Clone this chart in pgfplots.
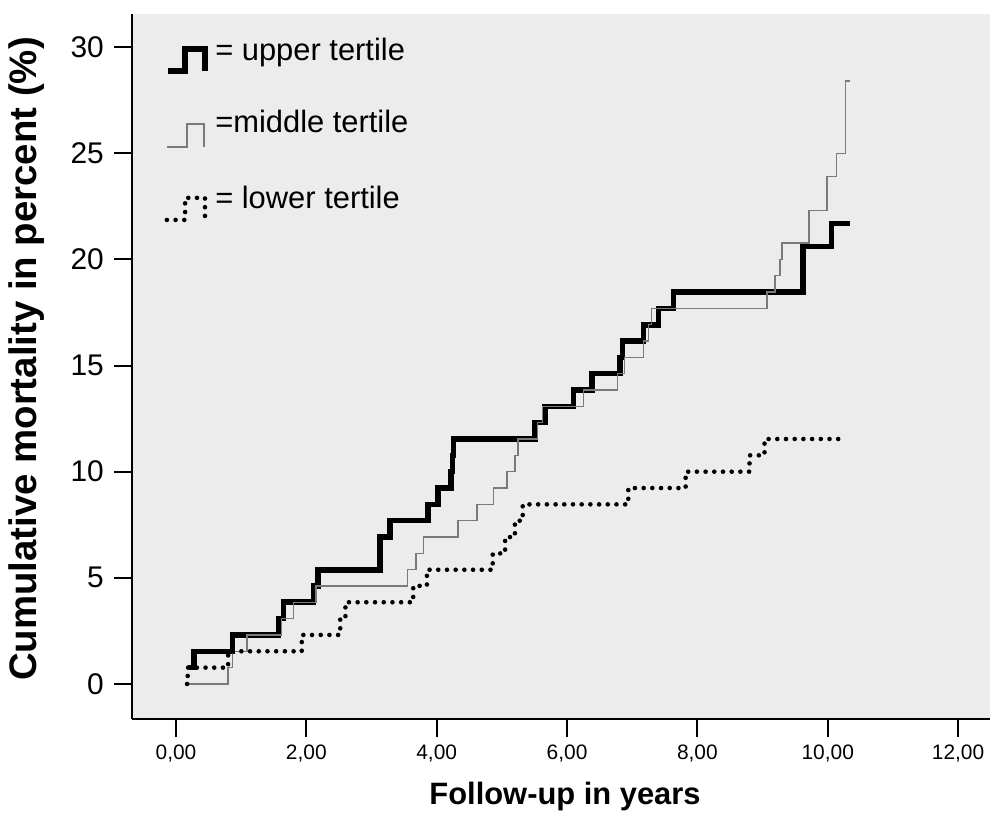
\documentclass[border=0pt]{standalone}
\usepackage{fontspec}
\setmainfont{Liberation Sans}
\usepackage{pgfplots}
\pgfplotsset{compat=1.18}
\definecolor{bgGray}{HTML}{ECECEC}
\definecolor{midGray}{HTML}{7A7A7A}
\newcommand{\xtl}[1]{\mbox{\fontsize{21}{24}\selectfont #1}}
\newcommand{\ytl}[1]{\mbox{\fontsize{30}{34}\selectfont #1}}
\begin{document}
\begin{tikzpicture}
\path[use as bounding box] (0,0) rectangle (990bp,815bp);
\begin{axis}[
  at={(132bp,96bp)}, anchor=south west,
  scale only axis, width=858bp, height=705bp,
  xmin=-0.675, xmax=12.49, ymin=-1.65, ymax=31.56,
  axis x line*=bottom, axis y line*=left,
  axis line style={line width=1.5bp},
  axis background/.style={fill=bgGray},
  tick align=outside, major tick length=18bp,
  tick style={line width=2bp, black},
  xtick={0,2,4,6,8,10,12},
  xticklabels={\xtl{0,00},\xtl{2,00},\xtl{4,00},\xtl{6,00},\xtl{8,00},\xtl{10,00},\xtl{12,00}},
  ytick={0,5,10,15,20,25,30},
  yticklabels={\ytl{0},\ytl{5},\ytl{10},\ytl{15},\ytl{20},\ytl{25},\ytl{30}},
  xticklabel style={inner sep=8bp},
  yticklabel style={inner sep=10bp},
  clip=false,
]
% upper tertile
\addplot[const plot, black, line width=5.5bp, line join=miter] coordinates {
(0.18,0.77) (0.28,1.54) (0.87,2.31) (1.57,3.08) (1.65,3.85) (2.11,4.62) (2.18,5.38)
(3.13,6.92) (3.28,7.69) (3.87,8.46) (4.02,9.23) (4.22,10.0) (4.24,10.77) (4.26,11.54)
(5.51,12.31) (5.66,13.08) (6.10,13.85) (6.38,14.62) (6.81,15.38) (6.85,16.15)
(7.17,16.92) (7.40,17.69) (7.63,18.46) (9.62,20.6) (10.06,21.7) (10.34,21.7)
};
% middle tertile
\addplot[const plot, midGray, line width=1.4bp] coordinates {
(0.17,0) (0.80,0.77) (0.87,1.54) (1.09,2.31) (1.62,3.08) (1.80,3.85) (2.15,4.62)
(3.55,5.38) (3.68,6.15) (3.80,6.92) (4.33,7.69) (4.62,8.46) (4.87,9.23) (5.08,10.0)
(5.20,10.77) (5.25,11.54) (5.55,12.31) (5.62,13.08) (6.25,13.85) (6.77,14.62)
(6.88,15.38) (7.17,16.15) (7.25,16.92) (7.30,17.69) (9.07,18.46) (9.19,19.23)
(9.27,20.0) (9.30,20.77) (9.71,22.3) (9.99,23.9) (10.13,25.0) (10.27,28.4) (10.34,28.4)
};
% lower tertile
\addplot[const plot, black, line width=4.6bp, line cap=round, dash pattern=on 0bp off 8.7bp] coordinates {
(0.17,0) (0.18,0.77) (0.80,1.54) (1.93,2.31) (2.52,3.08) (2.60,3.85) (3.64,4.62)
(3.85,5.38) (4.86,6.15) (5.05,6.92) (5.20,7.69) (5.32,8.46) (6.94,9.23) (7.82,10.0)
(8.80,10.77) (9.03,11.54) (10.24,11.54)
};
% legend icons
\addplot[black, line width=5.5bp, line join=miter] coordinates {
(-0.12,28.87) (0.14,28.87) (0.14,29.91) (0.445,29.91) (0.445,28.87)};
\addplot[midGray, line width=1.4bp] coordinates {
(-0.14,25.3) (0.17,25.3) (0.17,26.38) (0.43,26.38) (0.43,25.3)};
\addplot[black, line width=4.6bp, line cap=round, dash pattern=on 0bp off 8.7bp] coordinates {
(-0.14,21.86) (0.14,21.86) (0.14,22.9) (0.445,22.9) (0.445,21.86)};
\node[anchor=base west, inner sep=0pt, font=\fontsize{31}{36}\selectfont] at (axis cs:0.6,29.39) {= upper tertile};
\node[anchor=base west, inner sep=0pt, font=\fontsize{31}{36}\selectfont] at (axis cs:0.6,26.0) {=middle tertile};
\node[anchor=base west, inner sep=0pt, font=\fontsize{31}{36}\selectfont] at (axis cs:0.6,22.42) {= lower tertile};
\end{axis}
\node[rotate=90, font=\bfseries\fontsize{38.5}{42}\selectfont] at (27bp,456bp) {Cumulative mortality in percent (\%)};
\node[font=\bfseries\fontsize{31}{35}\selectfont] at (565bp,18bp) {Follow-up in years};
\end{tikzpicture}
\end{document}
